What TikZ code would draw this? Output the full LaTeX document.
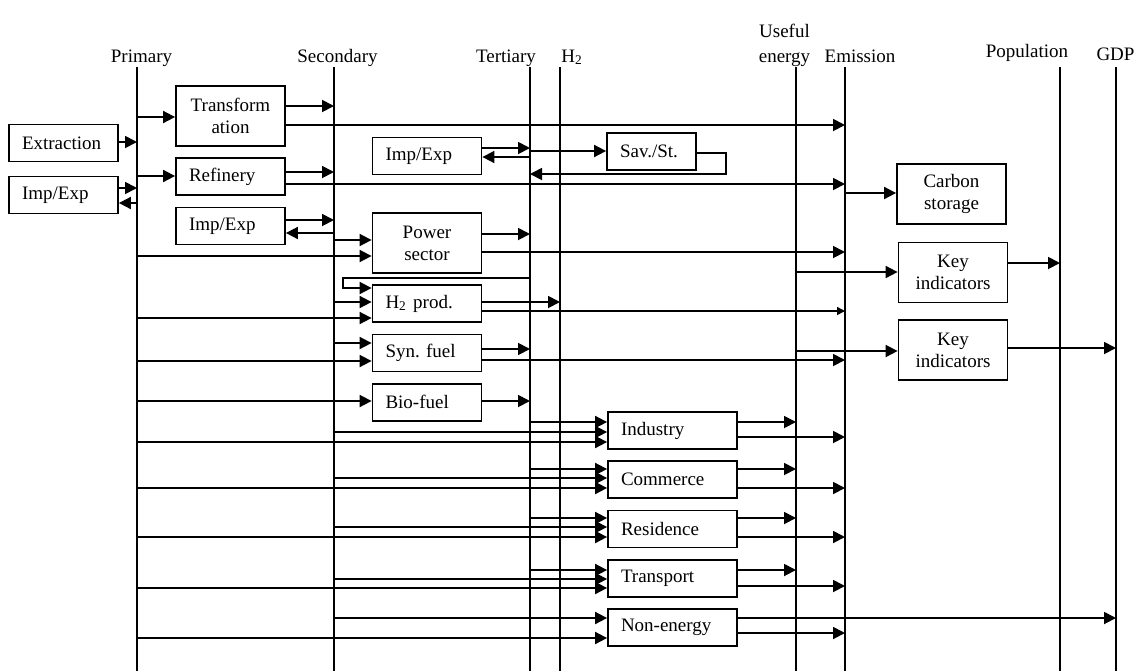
\documentclass[tikz,border=0pt]{standalone}
\usepackage{fontspec}
\setmainfont{Liberation Serif}
\usetikzlibrary{arrows.meta, positioning}

\begin{document}
\begin{tikzpicture}[
    x=0.5pt, y=-0.5pt,
    box/.style={draw, line width=0.9pt, inner xsep=6.5pt, inner ysep=0pt, minimum height=18.5pt, text width=41.5pt, align=left, font=\fontsize{9.5}{11}\selectfont},
    twoline/.style={box, align=center, minimum height=30pt},
    sector/.style={box, text width=51.5pt},
    head/.style={inner sep=0pt, anchor=base, font=\fontsize{9.5}{12.5}\selectfont},
    axis/.style={line width=0.9pt},
    arrow/.style={-{Triangle[length=6pt, width=6pt]}, line width=0.9pt},
    small arrow/.style={-{Triangle[length=4pt, width=4pt]}, line width=0.7pt},
    node distance=5.2pt
]
\useasboundingbox (0,0) rectangle (1143,671);

\node[head] (lpri) at (141.5,62) {Primary};
\node[head] (lsec) at (337.5,62) {Secondary};
\node[head] (lter) at (506,62) {Tertiary};
\node[head] (lhtwo) at (572,62) {H\textsubscript{2}};
\node[head, anchor=north, align=center] (luse) at (784.5,24) {Useful\\energy};
\node[head] (lemi) at (860,62) {Emission};
\node[head] (lpop) at (1027,57) {Population};
\node[head] (lgdp) at (1115.5,60) {GDP};

\coordinate (pri) at (137,67);
\coordinate (sec) at (334,67);
\coordinate (ter) at (530,67);
\coordinate (htwo) at (560,67);
\coordinate (use) at (796,67);
\coordinate (emi) at (845,67);
\coordinate (pop) at (1060,67);
\coordinate (gdp) at (1116,67);
\draw[axis] (pri) -- (pri |- 0,671);
\draw[axis] (sec) -- (sec |- 0,671);
\draw[axis] (ter) -- (ter |- 0,671);
\draw[axis] (htwo) -- (htwo |- 0,671);
\draw[axis] (use) -- (use |- 0,671);
\draw[axis] (emi) -- (emi |- 0,671);
\draw[axis] (pop) -- (pop |- 0,671);
\draw[axis] (gdp) -- (gdp |- 0,671);

\node[box] (extr) at (63.5,143) {Extraction};
\node[box] (impL) at (63.5,195) {Imp/Exp};
\node[twoline] (trans) at (230.5,116) {Transform\\ation};
\node[box, below=of trans] (refin) {Refinery};
\node[box, below=of refin] (impS) {Imp/Exp};
\node[box] (impT) at (427,156) {Imp/Exp};
\node[box, text width=31.5pt] (sav) at (651.5,151.5) {Sav./St.};
\node[twoline] (power) at (427,243) {Power\\sector};
\node[box, below=of power] (htprod) {H\textsubscript{2}\ prod.};
\node[box, below=of htprod] (syn) {Syn.\ fuel};
\node[box, below=of syn] (bio) {Bio-fuel};
\node[sector] (ind) at (672.5,430.5) {Industry};
\node[sector, below=of ind] (com) {Commerce};
\node[sector, below=of com] (res) {Residence};
\node[sector, below=of res] (tra) {Transport};
\node[sector, below=of tra] (non) {Non-energy};
\node[twoline] (carb) at (951.5,194) {Carbon\\storage};
\node[twoline] (key1) at (953,272.5) {Key\\indicators};
\node[twoline] (key2) at (953,350) {Key\\indicators};

\draw[arrow] (extr.east |- 0,142) -- (pri |- 0,142);
\draw[arrow] (impL.east |- 0,188) -- (pri |- 0,188);
\draw[arrow] (pri |- 0,203) -- (impL.east |- 0,203);
\draw[arrow] (pri |- 0,117) -- (trans.west |- 0,117);
\draw[arrow] (pri |- 0,176) -- (refin.west |- 0,176);
\draw[arrow] (pri |- 0,256) -- (power.west |- 0,256);
\draw[arrow] (pri |- 0,318) -- (htprod.west |- 0,318);
\draw[arrow] (pri |- 0,361) -- (syn.west |- 0,361);
\draw[arrow] (pri |- 0,401) -- (bio.west |- 0,401);
\draw[arrow] (pri |- 0,442) -- (ind.west |- 0,442);
\draw[arrow] (pri |- 0,488) -- (com.west |- 0,488);
\draw[arrow] (pri |- 0,537) -- (res.west |- 0,537);
\draw[arrow] (pri |- 0,588) -- (tra.west |- 0,588);
\draw[arrow] (pri |- 0,638) -- (non.west |- 0,638);

\draw[arrow] (trans.east |- 0,106) -- (sec |- 0,106);
\draw[arrow] (trans.east |- 0,125) -- (emi |- 0,125);
\draw[arrow] (refin.east |- 0,172) -- (sec |- 0,172);
\draw[arrow] (refin.east |- 0,184) -- (emi |- 0,184);
\draw[arrow] (impS.east |- 0,220) -- (sec |- 0,220);
\draw[arrow] (sec |- 0,233) -- (impS.east |- 0,233);
\draw[arrow] (sec |- 0,240) -- (power.west |- 0,240);
\draw[arrow] (ter |- 0,278) -- (343,278) |- (htprod.west |- 0,288);
\draw[arrow] (sec |- 0,302) -- (htprod.west |- 0,302);
\draw[arrow] (sec |- 0,343) -- (syn.west |- 0,343);
\draw[arrow] (sec |- 0,432) -- (ind.west |- 0,432);
\draw[arrow] (sec |- 0,478) -- (com.west |- 0,478);
\draw[arrow] (sec |- 0,527) -- (res.west |- 0,527);
\draw[arrow] (sec |- 0,579) -- (tra.west |- 0,579);
\draw[arrow] (sec |- 0,618) -- (non.west |- 0,618);

\draw[arrow] (impT.east |- 0,148) -- (ter |- 0,148);
\draw[arrow] (ter |- 0,157) -- (impT.east |- 0,157);
\draw[arrow] (ter |- 0,151) -- (sav.west |- 0,151);
\draw[arrow] (sav.east |- 0,153) -- (726,153) |- (ter |- 0,174);
\draw[arrow] (power.east |- 0,234) -- (ter |- 0,234);
\draw[arrow] (power.east |- 0,252) -- (emi |- 0,252);
\draw[arrow] (htprod.east |- 0,302) -- (htwo |- 0,302);
\draw[small arrow] (htprod.east |- 0,311) -- (emi |- 0,311);
\draw[arrow] (syn.east |- 0,349) -- (ter |- 0,349);
\draw[arrow] (syn.east |- 0,360) -- (emi |- 0,360);
\draw[arrow] (bio.east |- 0,401) -- (ter |- 0,401);
\draw[arrow] (ter |- 0,422) -- (ind.west |- 0,422);
\draw[arrow] (ter |- 0,469) -- (com.west |- 0,469);
\draw[arrow] (ter |- 0,518) -- (res.west |- 0,518);
\draw[arrow] (ter |- 0,570) -- (tra.west |- 0,570);

\draw[arrow] (ind.east |- 0,422) -- (use |- 0,422);
\draw[arrow] (ind.east |- 0,437) -- (emi |- 0,437);
\draw[arrow] (com.east |- 0,469) -- (use |- 0,469);
\draw[arrow] (com.east |- 0,488) -- (emi |- 0,488);
\draw[arrow] (res.east |- 0,518) -- (use |- 0,518);
\draw[arrow] (res.east |- 0,537) -- (emi |- 0,537);
\draw[arrow] (tra.east |- 0,570) -- (use |- 0,570);
\draw[arrow] (tra.east |- 0,586) -- (emi |- 0,586);
\draw[arrow] (non.east |- 0,618) -- (gdp |- 0,618);
\draw[arrow] (non.east |- 0,633) -- (emi |- 0,633);

\draw[arrow] (emi |- 0,193) -- (carb.west |- 0,193);
\draw[arrow] (use |- 0,272) -- (key1.west |- 0,272);
\draw[arrow] (key1.east |- 0,263) -- (pop |- 0,263);
\draw[arrow] (use |- 0,351) -- (key2.west |- 0,351);
\draw[arrow] (key2.east |- 0,348) -- (gdp |- 0,348);

\end{tikzpicture}
\end{document}
